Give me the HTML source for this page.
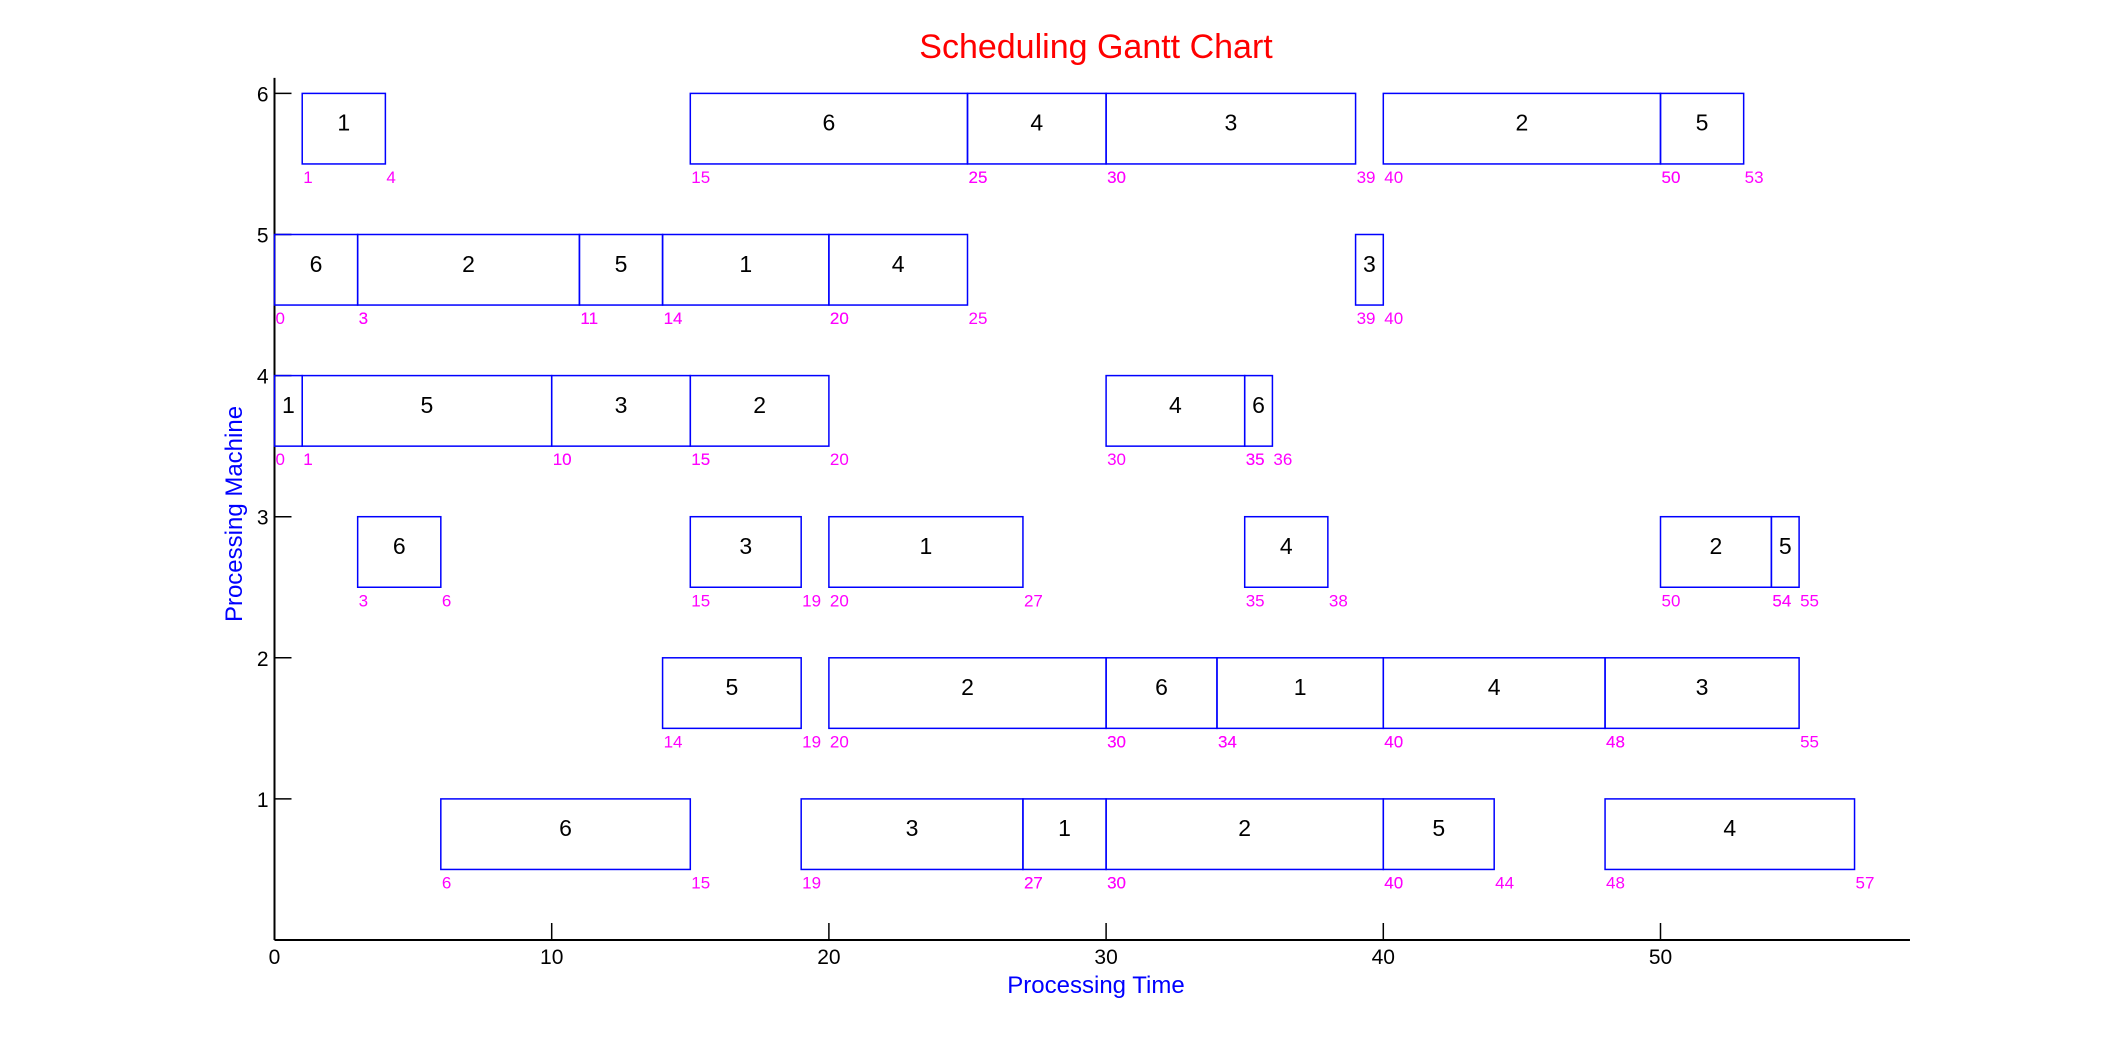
<!DOCTYPE html>
<html><head><meta charset="utf-8"><style>
html,body{margin:0;padding:0;background:#fff;}
svg{display:block;font-family:"Liberation Sans",Arial,sans-serif;}
</style></head><body>
<svg id="chart" width="2111" height="1054" viewBox="0 0 2111 1054">
<rect width="2111" height="1054" fill="#fff"/>
<text x="1096" y="58" font-size="34" fill="#ff0000" text-anchor="middle">Scheduling Gantt Chart</text>
<text x="1096" y="993" font-size="24" fill="#0000ff" text-anchor="middle">Processing Time</text>
<text x="0" y="0" font-size="24" fill="#0000ff" text-anchor="middle" transform="translate(242,514) rotate(-90)">Processing Machine</text>
<g id="axes"></g>
<g id="marks"></g>
</svg>
<script>
const machines = [6,6,6,6,6,6, 5,5,5,5,5,5, 4,4,4,4,4,4, 3,3,3,3,3,3, 2,2,2,2,2,2, 1,1,1,1,1,1];
const starts = [1,15,25,30,40,50, 0,3,11,14,20,39, 0,1,10,15,30,35, 3,15,20,35,50,54, 14,20,30,34,40,48, 6,19,27,30,40,48];
const ends = [4,25,30,39,50,53, 3,11,14,20,25,40, 1,10,15,20,35,36, 6,19,27,38,54,55, 19,30,34,40,48,55, 15,27,30,40,44,57];
const jobs = [1,6,4,3,2,5, 6,2,5,1,4,3, 1,5,3,2,4,6, 6,3,1,4,2,5, 5,2,6,1,4,3, 6,3,1,2,5,4];
const xTicks = [0,10,20,30,40,50];
const yTicks = [1,2,3,4,5,6];

const NS = 'http://www.w3.org/2000/svg';
const X0 = 274.5, XU = 27.72, Y0 = 940, YU = 141.1;
const xs = v => X0 + v * XU;
const ys = v => Y0 - v * YU;
function mk(tag, attrs, parent, text) {
  const e = document.createElementNS(NS, tag);
  for (const k in attrs) e.setAttribute(k, attrs[k]);
  if (text !== undefined) e.textContent = text;
  parent.appendChild(e);
  return e;
}
const axes = document.getElementById('axes');
const marks = document.getElementById('marks');
let e;
e = mk('line', {x1: X0, y1: Y0, x2: xs(59), y2: Y0, stroke: '#000', 'stroke-width': 2}, axes);


e = mk('line', {x1: X0, y1: Y0, x2: X0, y2: ys(6.11), stroke: '#000', 'stroke-width': 2}, axes);


xTicks.forEach(t => {
  e = mk('line', {x1: xs(t), y1: Y0, x2: xs(t), y2: Y0 - 17, stroke: '#000', 'stroke-width': 1.5}, axes);
  
  
  e = mk('text', {x: xs(t), y: Y0 + 24, 'font-size': 21, 'text-anchor': 'middle', fill: '#000'}, axes, String(t));
  
  
});
yTicks.forEach(t => {
  e = mk('line', {x1: X0, y1: ys(t), x2: X0 + 17, y2: ys(t), stroke: '#000', 'stroke-width': 1.5}, axes);
  
  
  e = mk('text', {x: X0 - 6, y: ys(t) + 8, 'font-size': 21, 'text-anchor': 'end', fill: '#000'}, axes, String(t));
  
  
});
for (let i = 0; i < jobs.length; i++) {
  const m = machines[i], s = starts[i], f = ends[i];
  const top = ys(m), bot = ys(m - 0.5);
  e = mk('rect', {x: xs(s), y: top, width: xs(f) - xs(s), height: bot - top, fill: 'none', stroke: '#0000ff', 'stroke-width': 1.5}, marks);
  
  
  e = mk('text', {x: (xs(s) + xs(f)) / 2, y: (top + bot) / 2 + 2, 'font-size': 23, 'text-anchor': 'middle', fill: '#000'}, marks, String(jobs[i]));
  
  
  e = mk('text', {x: xs(s) + 1, y: bot + 19, 'font-size': 17, fill: '#ff00ff'}, marks, String(s));
  
  
  e = mk('text', {x: xs(f) + 1, y: bot + 19, 'font-size': 17, fill: '#ff00ff'}, marks, String(f));
  
  
}
</script>
</body></html>
